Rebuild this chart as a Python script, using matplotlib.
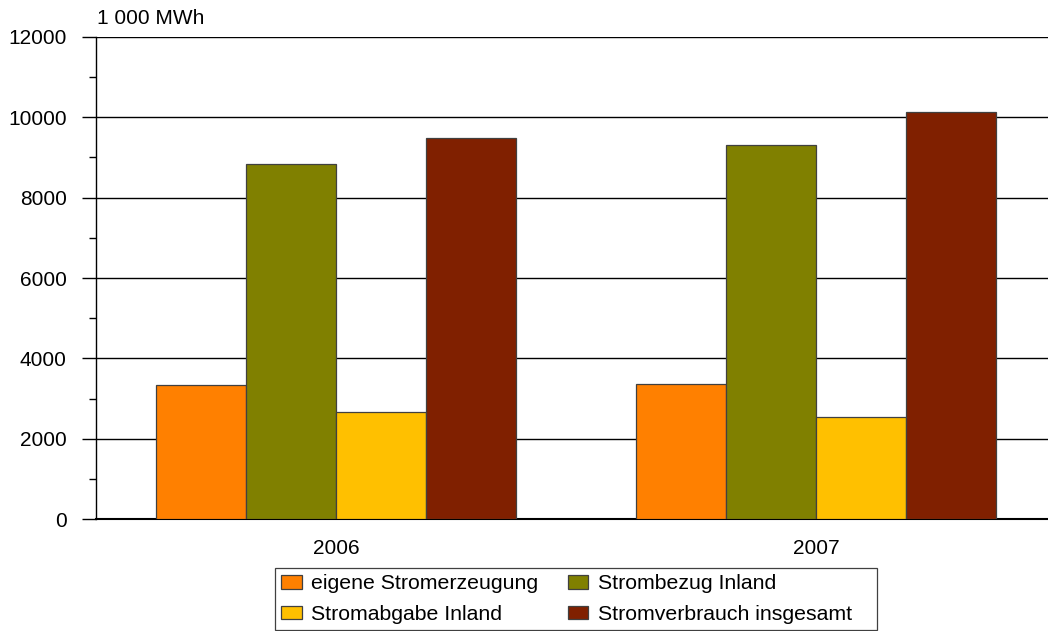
import numpy as np
import matplotlib
matplotlib.use('Agg')
import matplotlib.pyplot as plt
from matplotlib.patches import Rectangle
from matplotlib.ticker import MultipleLocator

plt.rcParams['font.family'] = ['Liberation Sans', 'DejaVu Sans']

years = ['2006', '2007']
eigene = [3330, 3370]
bezug = [8830, 9300]
abgabe = [2660, 2540]
verbrauch = [9490, 10130]

series = [
    ('eigene Stromerzeugung', eigene, '#FF8000'),
    ('Strombezug Inland', bezug, '#808000'),
    ('Stromabgabe Inland', abgabe, '#FFC000'),
    ('Stromverbrauch insgesamt', verbrauch, '#802000'),
]

W, H = 1048, 631
fs = 15
fig = plt.figure(figsize=(W / 100, H / 100), dpi=100)
# axes: left spine at x=96, 0 at y=519, 12000 at y=37, extends past right edge
ax = fig.add_axes([96 / W, 1 - 519.3 / H, 960 / W, (519.3 - 36.7) / H])

x = np.arange(len(years))
bw = 0.1875
handles = {}
for i, (lab, vals, col) in enumerate(series):
    b = ax.bar(x - 1.5 * bw + i * bw, vals, width=bw, color=col,
               edgecolor='#404040', linewidth=0.9, zorder=3, label=lab)
    handles[lab] = b

ax.set_xlim(-0.5, 1.5)
ax.set_ylim(0, 12000)
ax.yaxis.set_major_locator(MultipleLocator(2000))
ax.yaxis.set_minor_locator(MultipleLocator(1000))
ax.grid(True, axis='y', color='black', linewidth=1.0, zorder=0)
ax.set_axisbelow(True)
for s in ['top', 'right']:
    ax.spines[s].set_visible(False)
ax.spines['left'].set_linewidth(1.0)
ax.spines['bottom'].set_linewidth(1.5)
ax.tick_params(axis='y', which='major', length=10, width=1.0, labelsize=fs, pad=11)
ax.tick_params(axis='y', which='minor', length=5, width=1.0)
ax.tick_params(axis='x', length=0, labelsize=fs, pad=14)
ax.set_xticks(x)
ax.set_xticklabels(years)

fig.text(97 / W, 1 - 18 / H, '1 000 MWh', fontsize=fs, ha='left', va='center')

order = ['eigene Stromerzeugung', 'Stromabgabe Inland',
         'Strombezug Inland', 'Stromverbrauch insgesamt']
leg = fig.legend([handles[k] for k in order], order, ncol=2,
                 loc='upper left', bbox_to_anchor=(275 / W, 1 - 568 / H),
                 fontsize=15.3, frameon=False,
                 handlelength=0.95, handleheight=0.6,
                 handletextpad=0.45, columnspacing=1.4, borderpad=0.3,
                 labelspacing=0.55, borderaxespad=0)

# legend box (wider on the right than the entries need)
fig.patches.append(Rectangle((275 / W, 1 - 630 / H), (877 - 275) / W, 62 / H,
                             transform=fig.transFigure, fill=False,
                             edgecolor='#404040', linewidth=0.9))

fig.savefig('out.png', dpi=100)
